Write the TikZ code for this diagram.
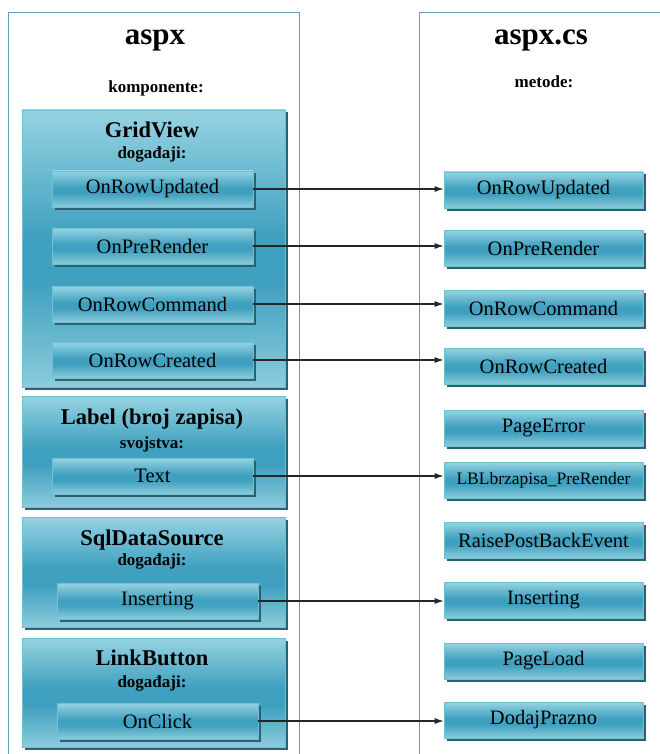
\documentclass[tikz,border=0pt]{standalone}
\usepackage{fontspec}
\setmainfont{Liberation Serif}
\usetikzlibrary{shadows,arrows.meta}
\definecolor{framec}{HTML}{5FA3B5}
\definecolor{boxtop}{HTML}{96D3E2}
\definecolor{boxmid}{HTML}{3FA0BF}
\definecolor{boxbot}{HTML}{8CCCDC}
\definecolor{boxedge}{HTML}{70BFD3}
\definecolor{boxshadow}{HTML}{2A6272}
\pgfdeclareverticalshading{btnshade}{100bp}{color(0bp)=(boxbot); color(25bp)=(boxbot);
  color(44bp)=(boxmid); color(52bp)=(boxmid); color(75bp)=(boxtop); color(100bp)=(boxtop)}

\begin{document}
\begin{tikzpicture}[x=1pt,y=-1pt,
    panel/.style={draw=boxedge, line width=0.6pt, shading=btnshade,
      drop shadow={shadow xshift=2.5pt, shadow yshift=-2.5pt, fill=boxshadow, opacity=1}, inner sep=0pt},
    grp/.style={panel, minimum width=263pt},
    btn/.style={panel, minimum width=201pt, minimum height=36pt, font=\fontsize{20.5}{24}\selectfont},
    meth/.style={btn, minimum width=199pt},
    head/.style={anchor=base, font=\bfseries\fontsize{22.5}{26}\selectfont},
    sub/.style={anchor=base, font=\bfseries\fontsize{17}{20}\selectfont},
    link/.style={-{Latex[length=9pt,width=6pt]}, line width=1.1pt, black!85}]
    \useasboundingbox (0,0) rectangle (660,754);
    \clip (0,0) rectangle (660,754);

    % Frames
    \draw[framec, line width=0.8pt] (8,12) rectangle (299,770);
    \draw[framec, line width=0.8pt] (419,12) rectangle (680,770);
    \node[anchor=base, font=\bfseries\fontsize{31}{36}\selectfont] (aspx) at (155,45) {aspx};
    \node[sub] (komp) at (156,93) {komponente:};
    \node[anchor=base, font=\bfseries\fontsize{31}{36}\selectfont] (aspxcs) at (541,45) {aspx.cs};
    \node[sub] (met) at (544,88) {metode:};

    % GridView
    \node[grp, minimum height=277pt] (grid) at (153.5,248.5) {};
    \node[head] (gridt) at (152,138) {GridView};
    \node[sub] (grids) at (152,159) {događaji:};
    \node[btn] (rowupd) at (152.5,189) {OnRowUpdated};
    \node[btn] (prerend) at (152.5,246) {OnPreRender};
    \node[btn] (rowcmd) at (152.5,304) {OnRowCommand};
    \node[btn] (rowcre) at (152.5,360) {OnRowCreated};

    % Label
    \node[grp, minimum height=111pt] (lbl) at (153.5,451.5) {};
    \node[head] (lblt) at (152,424) {Label (broj zapisa)};
    \node[sub] (lbls) at (152,448) {svojstva:};
    \node[btn] (txt) at (152.5,476) {Text};

    % SqlDataSource
    \node[grp, minimum height=110pt] (sql) at (153.5,572) {};
    \node[head] (sqlt) at (152,545) {SqlDataSource};
    \node[sub] (sqls) at (152,565) {događaji:};
    \node[btn] (ins) at (157.5,601) {Inserting};

    % LinkButton
    \node[grp, minimum height=109pt] (lnk) at (153.5,692.5) {};
    \node[head] (lnkt) at (152,665) {LinkButton};
    \node[sub] (lnks) at (152,687) {događaji:};
    \node[btn] (click) at (157.5,721) {OnClick};

    % Methods
    \node[meth] (m1) at (543.5,190) {OnRowUpdated};
    \node[meth] (m2) at (543.5,248) {OnPreRender};
    \node[meth] (m3) at (543.5,308) {OnRowCommand};
    \node[meth] (m4) at (543.5,366) {OnRowCreated};
    \node[meth] (m5) at (543.5,428) {PageError};
    \node[meth, font=\fontsize{17.5}{20}\selectfont] (m6) at (543.5,480) {LBLbrzapisa\_PreRender};
    \node[meth] (m7) at (543.5,540) {RaisePostBackEvent};
    \node[meth] (m8) at (543.5,600) {Inserting};
    \node[meth] (m9) at (543.5,661) {PageLoad};
    \node[meth] (m10) at (543.5,720) {DodajPrazno};

    % Connections
    \draw[link] (rowupd.east) -- (rowupd.east -| m1.west);
    \draw[link] (prerend.east) -- (prerend.east -| m2.west);
    \draw[link] (rowcmd.east) -- (rowcmd.east -| m3.west);
    \draw[link] (rowcre.east) -- (rowcre.east -| m4.west);
    \draw[link] (txt.east) -- (txt.east -| m6.west);
    \draw[link] (ins.east) -- (ins.east -| m8.west);
    \draw[link] (click.east) -- (click.east -| m10.west);
\end{tikzpicture}
\end{document}
